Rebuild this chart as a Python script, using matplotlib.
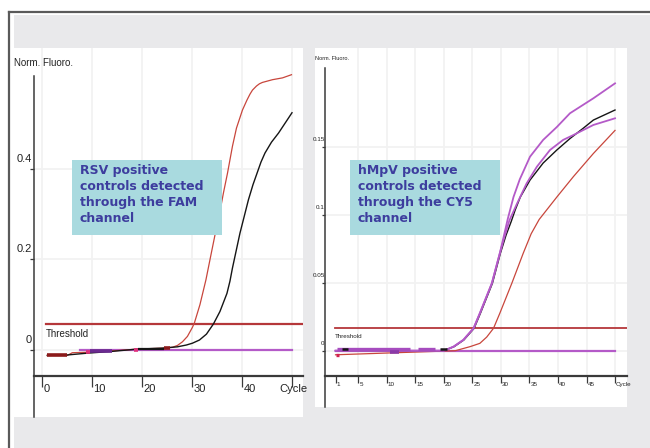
import matplotlib
matplotlib.use("Agg")
import matplotlib.pyplot as plt
import matplotlib.transforms as mtransforms
from matplotlib.patches import Rectangle
from matplotlib.lines import Line2D

# ---- RSV panel (FAM channel) ----
rsv_red_cycle = [1, 5, 6, 9, 14, 19, 24, 26, 27, 28, 29, 30, 30.4, 31.5, 32.7, 33.7, 34.6, 35.4,
                 36.2, 37, 38, 38.8, 40, 40.9, 41.5, 42, 42.8, 43.4, 44, 46, 48, 49.8]
rsv_red_fluo = [-0.012, -0.012, -0.006, -0.005, -0.002, 0.002, 0.004, 0.006, 0.01, 0.018, 0.03, 0.05,
                0.06, 0.1, 0.155, 0.21, 0.259, 0.3, 0.347, 0.39, 0.45, 0.49, 0.53, 0.552, 0.565,
                0.574, 0.583, 0.588, 0.591, 0.597, 0.601, 0.608]
rsv_black_cycle = [1, 5, 9, 14, 19, 24, 27, 28.8, 30, 31.4, 32.8, 34.2, 35.5, 36.9, 37.5, 38, 39.5,
                   41.2, 42.1, 42.9, 43.7, 44.5, 45.8, 47.2, 49.9]
rsv_black_fluo = [-0.012, -0.011, -0.007, -0.003, 0.002, 0.004, 0.007, 0.011, 0.015, 0.022, 0.035,
                  0.0575, 0.085, 0.125, 0.152, 0.181, 0.258, 0.332, 0.365, 0.39, 0.415, 0.435, 0.459,
                  0.479, 0.524]
rsv_flat_cycle = [7.5, 50]
rsv_flat_fluo = [0.0, 0.0]
rsv_threshold = 0.0575
rsv_threshold_from = 0.7
rsv_xticks = [0, 10, 20, 30, 40, 50]
rsv_xticklabels = ['0', '10', '20', '30', '40', 'Cycle']
rsv_yticks = [0, 0.2, 0.4]
rsv_yticklabels = ['0', '0.2', '0.4']
# short thicker baseline pieces: (cycle start, cycle end, fluo)
rsv_seg_darkred = [(1, 5, -0.012), (24.4, 25.6, 0.004)]
rsv_seg_purple = [(9.5, 14, -0.003)]
rsv_seg_pink = [(8.8, 9.6, -0.004), (18.3, 19.2, 0.001)]
rsv_seg_black = [(19.2, 24.4, 0.003)]

# ---- hMpV panel (CY5 channel) ----
hmpv_purple1_cycle = [1, 20, 21.7, 23.4, 25.2, 26.3, 28.4, 29.8, 30.6, 31.2, 32.2, 33.3, 35.1, 37.4,
                      39.8, 42.1, 46.2, 50]
hmpv_purple1_fluo = [0.0, 0.0, 0.003, 0.0079, 0.0165, 0.0275, 0.0495, 0.0716, 0.086, 0.097, 0.113,
                     0.126, 0.1427, 0.155, 0.1645, 0.1746, 0.1856, 0.1966]
hmpv_purple2_cycle = [1, 20, 21.7, 23.4, 25.2, 26.3, 28.4, 29.8, 30.7, 31.5, 32.8, 34.5, 36.3, 38.6,
                      40.9, 42.7, 46.2, 50]
hmpv_purple2_fluo = [0.0, 0.0, 0.003, 0.0079, 0.0165, 0.0275, 0.0495, 0.0716, 0.085, 0.096, 0.108,
                     0.123, 0.1353, 0.1476, 0.155, 0.1586, 0.166, 0.1709]
hmpv_black_cycle = [1, 20, 21.8, 23.5, 25.3, 26.4, 28.5, 29.9, 30.9, 31.8, 32.5, 33.4, 35.1, 37.4,
                    39.8, 42.1, 44.4, 46.2, 50]
hmpv_black_fluo = [0.0, 0.0, 0.003, 0.0079, 0.0165, 0.0275, 0.0495, 0.0716, 0.085, 0.095, 0.1035,
                   0.113, 0.1255, 0.138, 0.1476, 0.156, 0.1635, 0.1696, 0.177]
hmpv_red_cycle = [1, 22, 24.6, 26.3, 27.5, 28.7, 29.8, 31.9, 33.9, 35.3, 36.7, 39.8, 42.7, 46.2, 50]
hmpv_red_fluo = [-0.003, 0.0, 0.003, 0.0054, 0.01, 0.0165, 0.0275, 0.0495, 0.0716, 0.086, 0.0965,
                 0.113, 0.128, 0.145, 0.162]
hmpv_flat_cycle = [1, 50]
hmpv_flat_fluo = [0.0, 0.0]
hmpv_threshold = 0.0165
hmpv_threshold_from = 0.9
hmpv_xticks = [1, 5, 10, 15, 20, 25, 30, 35, 40, 45, 50]
hmpv_xticklabels = ['1', '5', '10', '15', '20', '25', '30', '35', '40', '45', 'Cycle']
hmpv_yticks = [0, 0.05, 0.1, 0.15]
hmpv_yticklabels = ['0', '0.05', '0.1', '0.15']
hmpv_seg_purple = [(1.2, 14, 0.001), (15.5, 18.5, 0.001)]
hmpv_seg_darkpurple = [(10.5, 12.2, -0.0008)]
hmpv_seg_black = [(2.2, 3.2, 0.001), (19.3, 20.5, 0.001)]
hmpv_seg_red = [(1, 1.6, -0.003)]

# colours
BG = '#e9e9eb'
AXIS = '#3a3a3a'
GRID = '#f2f2f2'
RED = '#c8463c'
THRESH = '#b5373a'
PURPLE = '#b45ac8'
BOX = '#a9dadf'
BOXTEXT = '#3d3d9e'
NARROW = ['Liberation Sans', 'DejaVu Sans']

W, H = 650, 448
fig = plt.figure(figsize=(W / 100, H / 100), dpi=100)
fig.patch.set_facecolor('white')


def fx(px):
    return px / W


def fy(py):
    return 1 - py / H


# grey slide background and border
fig.patches.append(Rectangle((fx(14), 0), fx(W - 14), fy(15), transform=fig.transFigure,
                             facecolor=BG, edgecolor='none', zorder=-5))
fig.lines.append(Line2D([fx(9), 1], [fy(12), fy(12)], transform=fig.transFigure, color='#5a5a5a',
                        lw=1.6, zorder=-4))
fig.lines.append(Line2D([fx(9), fx(9)], [fy(12), 0], transform=fig.transFigure, color='#5a5a5a',
                        lw=1.6, zorder=-4))


def make_panel(box, xlim, ylim, xaxis_at, yaxis_at, ytop, xticks, xlabels, yticks, ylabels,
               fsize, xtick_len, xpad, ytick_len, ypad, yshift, grid_x, last_center):
    ax = fig.add_axes([fx(box[0]), fy(box[3]), fx(box[2] - box[0]), (box[3] - box[1]) / H])
    ax.set_facecolor('white')
    ax.set_xlim(*xlim)
    ax.set_ylim(*ylim)
    for s in ['top', 'right']:
        ax.spines[s].set_visible(False)
    ax.spines['left'].set_position(('data', yaxis_at))
    ax.spines['left'].set_bounds(ylim[0], ytop)
    ax.spines['left'].set_color(AXIS)
    ax.spines['left'].set_linewidth(1.1)
    ax.spines['bottom'].set_position(('data', xaxis_at))
    ax.spines['bottom'].set_bounds(yaxis_at, xlim[1])
    ax.spines['bottom'].set_color(AXIS)
    ax.spines['bottom'].set_linewidth(1.6)
    ax.vlines(grid_x, xaxis_at, ylim[1], color=GRID, lw=1.3, zorder=0)
    ax.hlines(yticks, yaxis_at, xlim[1], color=GRID, lw=1.3, zorder=0)
    ax.set_xticks(xticks, xlabels)
    ax.set_yticks(yticks, ylabels)
    ax.tick_params(axis='x', direction='out', length=xtick_len, width=0.9, color=AXIS, pad=xpad,
                   labelsize=fsize, labelcolor='#222222')
    ax.tick_params(axis='y', direction='out', length=ytick_len, width=0.9, color=AXIS, pad=ypad,
                   labelsize=fsize, labelcolor='#222222')
    dx = mtransforms.ScaledTranslation(0.01, 0, fig.dpi_scale_trans)
    xl = ax.get_xticklabels()
    for lab in xl:
        lab.set_ha('left')
        lab.set_family(NARROW)
        lab.set_transform(lab.get_transform() + dx)
    if last_center:
        xl[-1].set_ha('center')
    dy = mtransforms.ScaledTranslation(0, yshift, fig.dpi_scale_trans)
    for lab in ax.get_yticklabels():
        lab.set_va('bottom')
        lab.set_family(NARROW)
        lab.set_transform(lab.get_transform() + dy)
    return ax


def segs(ax, seglist, color, lw):
    for c0, c1, v in seglist:
        ax.plot([c0, c1], [v, v], color=color, lw=lw, solid_capstyle='butt', zorder=4)


# ---- left panel ----
ax1 = make_panel((14, 48, 303, 417), (-5.66, 52.1), (-0.148, 0.667), -0.0569, -1.6, 0.606,
                 rsv_xticks, rsv_xticklabels, rsv_yticks, rsv_yticklabels,
                 8, 8, -2.2, 3, -1.4, 0.05, rsv_xticks, True)
ax1.plot([rsv_threshold_from, 52.1], [rsv_threshold] * 2, color=THRESH, lw=1.6, zorder=2)
ax1.plot(rsv_flat_cycle, rsv_flat_fluo, color=PURPLE, lw=1.6, zorder=3)
ax1.plot(rsv_red_cycle, rsv_red_fluo, color=RED, lw=0.9, zorder=3)
ax1.plot(rsv_black_cycle, rsv_black_fluo, color='#151515', lw=1.0, zorder=3)
segs(ax1, rsv_seg_darkred, '#8b1a1a', 2.6)
segs(ax1, rsv_seg_purple, '#6a2a90', 2.6)
segs(ax1, rsv_seg_pink, '#e0307a', 2.6)
segs(ax1, rsv_seg_black, '#151515', 1.6)
ax1.text(rsv_threshold_from, rsv_threshold - 0.012, 'Threshold', ha='left', va='top',
         fontsize=7, family=NARROW, color='#222222')
fig.text(fx(14), fy(63), 'Norm. Fluoro.', ha='left', va='center', fontsize=7, family=NARROW,
         color='#222222')

# ---- right panel ----
ax2 = make_panel((315, 48, 627, 407), (-2.6, 52.1), (-0.0414, 0.2226), -0.0184, -0.8, 0.2079,
                 hmpv_xticks, hmpv_xticklabels, hmpv_yticks, hmpv_yticklabels,
                 4.5, 5, -0.7, 2, -1.5, 0.05, hmpv_xticks[1:], False)
ax2.plot([hmpv_threshold_from, 52.1], [hmpv_threshold] * 2, color=THRESH, lw=1.3, zorder=2)
ax2.plot(hmpv_flat_cycle, hmpv_flat_fluo, color=PURPLE, lw=1.6, zorder=3)
ax2.plot(hmpv_red_cycle, hmpv_red_fluo, color=RED, lw=0.9, zorder=3)
ax2.plot(hmpv_black_cycle, hmpv_black_fluo, color='#151515', lw=1.0, zorder=3)
ax2.plot(hmpv_purple2_cycle, hmpv_purple2_fluo, color=PURPLE, lw=1.3, zorder=3)
ax2.plot(hmpv_purple1_cycle, hmpv_purple1_fluo, color=PURPLE, lw=1.3, zorder=3)
segs(ax2, hmpv_seg_purple, '#a64cbf', 2.4)
segs(ax2, hmpv_seg_darkpurple, '#8a3aa8', 2.6)
segs(ax2, hmpv_seg_black, '#151515', 1.8)
segs(ax2, hmpv_seg_red, '#d02050', 2.4)
ax2.text(hmpv_threshold_from, hmpv_threshold - 0.004, 'Threshold', ha='left', va='top',
         fontsize=4.5, family=NARROW, color='#222222')
fig.text(fx(315), fy(58), 'Norm. Fluoro.', ha='left', va='center', fontsize=4, family=NARROW,
         color='#222222')

# ---- annotation boxes ----
for x0, label in [(72, 'RSV positive\ncontrols detected\nthrough the FAM\nchannel'),
                  (350, 'hMpV positive\ncontrols detected\nthrough the CY5\nchannel')]:
    fig.patches.append(Rectangle((fx(x0), fy(235)), fx(150), 75 / H, transform=fig.transFigure,
                                 facecolor=BOX, edgecolor='none', zorder=5))
    fig.text(fx(x0 + 8), fy(164), label, ha='left', va='top', fontsize=9, fontweight='bold',
             color=BOXTEXT, linespacing=1.3, zorder=6)

fig.savefig('out.png', dpi=100, facecolor=fig.get_facecolor())
